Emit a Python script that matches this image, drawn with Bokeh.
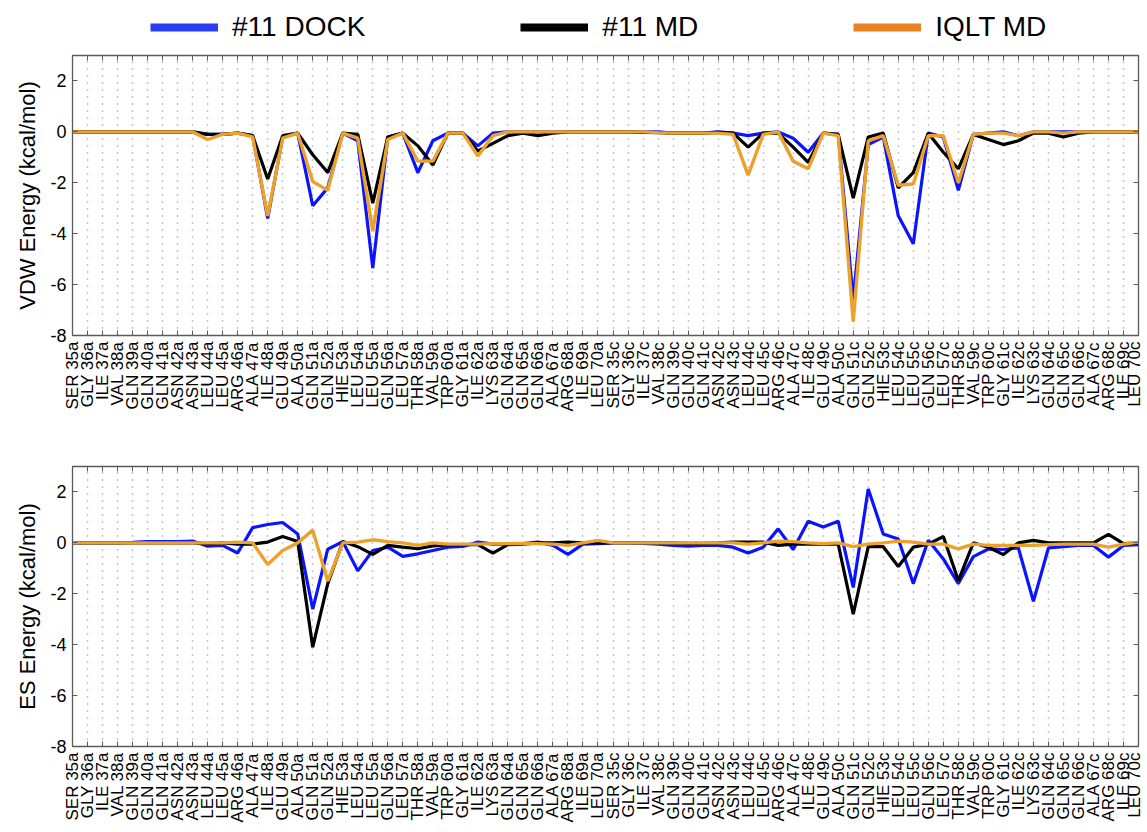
import numpy as np
from bokeh.plotting import figure
from bokeh.models import Range1d, FixedTicker, LinearAxis, Legend, LegendItem
from bokeh.layouts import column
from bokeh.embed import file_html
from bokeh.resources import INLINE

residues = [
    "SER 35a", "GLY 36a", "ILE 37a", "VAL 38a", "GLN 39a", "GLN 40a", "GLN 41a", "ASN 42a", "ASN 43a",
    "LEU 44a", "LEU 45a", "ARG 46a", "ALA 47a", "ILE 48a", "GLU 49a", "ALA 50a", "GLN 51a", "GLN 52a",
    "HIE 53a", "LEU 54a", "LEU 55a", "GLN 56a", "LEU 57a", "THR 58a", "VAL 59a", "TRP 60a", "GLY 61a",
    "ILE 62a", "LYS 63a", "GLN 64a", "GLN 65a", "GLN 66a", "ALA 67a", "ARG 68a", "ILE 69a", "LEU 70a",
    "SER 35c", "GLY 36c", "ILE 37c", "VAL 38c", "GLN 39c", "GLN 40c", "GLN 41c", "ASN 42c", "ASN 43c",
    "LEU 44c", "LEU 45c", "ARG 46c", "ALA 47c", "ILE 48c", "GLU 49c", "ALA 50c", "GLN 51c", "GLN 52c",
    "HIE 53c", "LEU 54c", "LEU 55c", "GLN 56c", "LEU 57c", "THR 58c", "VAL 59c", "TRP 60c", "GLY 61c",
    "ILE 62c", "LYS 63c", "GLN 64c", "GLN 65c", "GLN 66c", "ALA 67c", "ARG 68c", "ILE 69c", "LEU 70c",
]

series_names = ["#11 DOCK", "#11 MD", "IQLT MD"]

vdw_dock = [0, 0, 0, 0, 0, 0, 0, 0, 0,
            -0.1, -0.1, -0.05, -0.15, -3.4, -0.2, -0.05, -2.9, -2.2,
            -0.05, -0.35, -5.35, -0.2, -0.05, -1.6, -0.35, -0.05, -0.05,
            -0.55, -0.05, 0, 0, 0, 0, 0, 0, 0,
            0, 0, 0, 0, -0.05, -0.05, -0.05, 0, -0.05,
            -0.15, -0.05, 0, -0.25, -0.8, -0.05, -0.1, -6.6, -0.5,
            -0.2, -3.3, -4.4, -0.05, -0.2, -2.3, -0.1, -0.05, 0,
            -0.15, 0, 0, 0, 0, 0, 0, 0, 0]
vdw_md = [0, 0, 0, 0, 0, 0, 0, 0, 0,
          -0.1, -0.1, -0.05, -0.15, -1.85, -0.15, -0.05, -0.9, -1.6,
          -0.05, -0.1, -2.8, -0.2, -0.05, -0.55, -1.3, -0.05, -0.05,
          -0.75, -0.45, -0.15, -0.05, -0.15, -0.05, 0, 0, 0,
          0, 0, -0.02, -0.03, -0.05, -0.05, -0.05, -0.02, -0.05,
          -0.6, -0.05, -0.05, -0.6, -1.2, -0.05, -0.1, -2.6, -0.2,
          -0.05, -2.2, -1.6, -0.05, -0.8, -1.45, -0.1, -0.3, -0.5,
          -0.35, -0.05, -0.05, -0.2, -0.05, 0, 0, 0, 0]
vdw_iqlt = [0, 0, 0, 0, 0, 0, 0, 0, 0,
            -0.3, -0.1, -0.05, -0.2, -3.3, -0.25, -0.05, -1.95, -2.3,
            -0.05, -0.25, -3.9, -0.3, -0.05, -1.15, -1.15, -0.05, -0.05,
            -0.95, -0.15, 0, 0, 0, 0, 0, 0, 0,
            0, 0, 0, -0.03, -0.05, -0.05, -0.05, -0.05, -0.1,
            -1.7, -0.1, 0, -1.15, -1.45, -0.05, -0.15, -7.45, -0.35,
            -0.15, -2.1, -2.05, -0.15, -0.15, -2.0, -0.1, -0.05, -0.05,
            -0.15, 0, 0, -0.05, 0, 0, 0, 0, 0]

es_dock = [0, 0, 0, 0, 0.02, 0.05, 0.05, 0.05, 0.07,
           -0.13, -0.1, -0.4, 0.6, 0.72, 0.8, 0.35, -2.6, -0.25,
           0.05, -1.1, -0.3, -0.17, -0.53, -0.43, -0.3, -0.17, -0.14,
           0.03, -0.05, -0.05, -0.03, 0.03, -0.1, -0.45, -0.05, -0.03,
           0, 0, -0.02, -0.05, -0.1, -0.13, -0.1, -0.1, -0.17,
           -0.4, -0.17, 0.55, -0.26, 0.85, 0.62, 0.85, -1.75, 2.12,
           0.35, 0.15, -1.6, 0.1, -0.63, -1.6, -0.54, -0.24, -0.26,
           -0.2, -2.3, -0.2, -0.15, -0.1, -0.1, -0.56, -0.1, -0.07]
es_md = [0, 0, 0, 0, 0, 0, 0, 0, 0,
         -0.03, 0, -0.05, -0.05, 0.03, 0.25, 0.05, -4.1, -1.6,
         0.05, -0.15, -0.45, -0.1, -0.17, -0.23, -0.12, -0.08, -0.07,
         -0.07, -0.4, -0.07, -0.05, 0, 0, 0.03, 0, 0,
         0, 0, 0, 0, 0, -0.02, -0.02, 0, 0.03,
         0.03, 0.03, -0.1, -0.05, -0.05, -0.05, -0.05, -2.8, -0.15,
         -0.15, -0.93, -0.17, -0.05, 0.25, -1.48, 0, -0.17, -0.46,
         0, 0.1, 0, 0, 0, 0, 0.33, -0.03, 0]
es_iqlt = [0, 0, 0, 0, 0, 0, 0, 0, 0,
           0, 0, 0.03, 0, -0.85, -0.3, 0, 0.5, -1.5,
           0, 0.03, 0.12, 0.05, 0, -0.1, 0, -0.05, -0.05,
           -0.05, -0.03, -0.03, -0.02, -0.03, -0.05, -0.1, 0, 0.1,
           0, 0, 0, 0, 0, 0, 0, 0, 0,
           -0.05, 0, 0.07, 0.05, 0, -0.03, 0, -0.15, -0.05,
           0, 0.07, 0.03, -0.05, -0.05, -0.24, -0.05, -0.1, -0.1,
           -0.1, -0.1, -0.07, -0.05, -0.05, -0.05, -0.17, -0.05, 0.03]

y_ticks = [-8, -6, -4, -2, 0, 2]

BLUE = "#0a14ff"
BLACK = "#000000"
ORANGE = "#eca12a"
LEG_BLUE = "#2b3ff0"
LEG_ORANGE = "#e8811f"
FONT = "Liberation Sans"
FRAME = "#5a5a5a"

x = list(range(len(residues)))


def make_panel(ylabel, dock, md, iqlt, height, btop, bbottom):
    p = figure(width=1143, height=height, output_backend="svg", toolbar_location=None,
               x_range=Range1d(x[0], x[-1]), y_range=Range1d(-8, 3),
               min_border_left=72, min_border_right=5,
               min_border_top=btop, min_border_bottom=bbottom)
    p.outline_line_color = FRAME
    p.outline_line_width = 1.3
    p.background_fill_color = "white"
    p.border_fill_color = "white"

    xt = FixedTicker(ticks=x)
    yt = FixedTicker(ticks=y_ticks)
    p.xaxis.ticker = xt
    p.xaxis.major_label_overrides = {i: lab for i, lab in enumerate(residues)}
    p.xaxis.major_label_orientation = np.pi / 2
    p.xaxis.major_label_text_font = FONT
    p.xaxis.major_label_text_font_size = "17px"
    p.xaxis.major_label_text_color = "black"
    p.xaxis.major_label_standoff = 6
    p.yaxis.ticker = yt
    p.yaxis.major_label_overrides = {v: str(v) for v in y_ticks}
    p.yaxis.major_label_text_font = FONT
    p.yaxis.major_label_text_font_size = "18px"
    p.yaxis.major_label_text_color = "black"
    p.yaxis.major_label_standoff = 6
    p.yaxis.axis_label = ylabel
    p.yaxis.axis_label_text_font = FONT
    p.yaxis.axis_label_text_font_size = "22px"
    p.yaxis.axis_label_text_font_style = "normal"
    p.yaxis.axis_label_text_color = "black"
    p.yaxis.axis_label_standoff = 7
    for ax in (p.xaxis, p.yaxis):
        ax.major_tick_in = 5
        ax.major_tick_out = 0
        ax.minor_tick_line_color = None
        ax.axis_line_color = FRAME
        ax.major_tick_line_color = FRAME

    for loc, tk in (("above", xt), ("right", yt)):
        ax = LinearAxis(ticker=tk, major_label_text_font_size="0px", major_label_text_color=None,
                        major_label_standoff=0, major_tick_in=5, major_tick_out=0,
                        minor_tick_line_color=None, axis_line_color=FRAME, major_tick_line_color=FRAME)
        p.add_layout(ax, loc)

    p.xgrid.grid_line_color = "#8c8c8c"
    p.xgrid.grid_line_dash = "1 6"
    p.xgrid.grid_line_width = 1.5
    p.ygrid.grid_line_color = None

    p.line(x, dock, line_color=BLUE, line_width=3.2)
    p.line(x, md, line_color=BLACK, line_width=3.2)
    p.line(x, iqlt, line_color=ORANGE, line_width=3.4)
    return p


# legend strip above the two panels
leg = figure(width=1143, height=47, output_backend="svg", toolbar_location=None,
             x_axis_location=None, y_axis_location=None, min_border=0,
             x_range=Range1d(x[0], x[-1]), y_range=Range1d(-8, 3))
leg.outline_line_color = None
leg.grid.visible = False
r1 = leg.line(x, vdw_dock, line_color=LEG_BLUE, line_width=8, visible=False)
r2 = leg.line(x, vdw_md, line_color=BLACK, line_width=8, visible=False)
r3 = leg.line(x, vdw_iqlt, line_color=LEG_ORANGE, line_width=8, visible=False)
legend = Legend(items=[LegendItem(label=series_names[0], renderers=[r1]),
                       LegendItem(label=series_names[1], renderers=[r2]),
                       LegendItem(label=series_names[2], renderers=[r3])],
                location=(78, 4), orientation="horizontal",
                glyph_width=68, glyph_height=20, label_standoff=14, spacing=155,
                padding=0, margin=0, border_line_color=None, background_fill_alpha=0,
                inactive_fill_alpha=0,
                label_text_font=FONT, label_text_font_size="28px", label_text_color="black")
leg.add_layout(legend)

p1 = make_panel("VDW Energy (kcal/mol)", vdw_dock, vdw_md, vdw_iqlt, 387, 8, 99)
p2 = make_panel("ES Energy (kcal/mol)", es_dock, es_md, es_iqlt, 396, 32, 84)

layout = column(leg, p1, p2, spacing=0)
open("out.html", "w").write(file_html(layout, INLINE))
